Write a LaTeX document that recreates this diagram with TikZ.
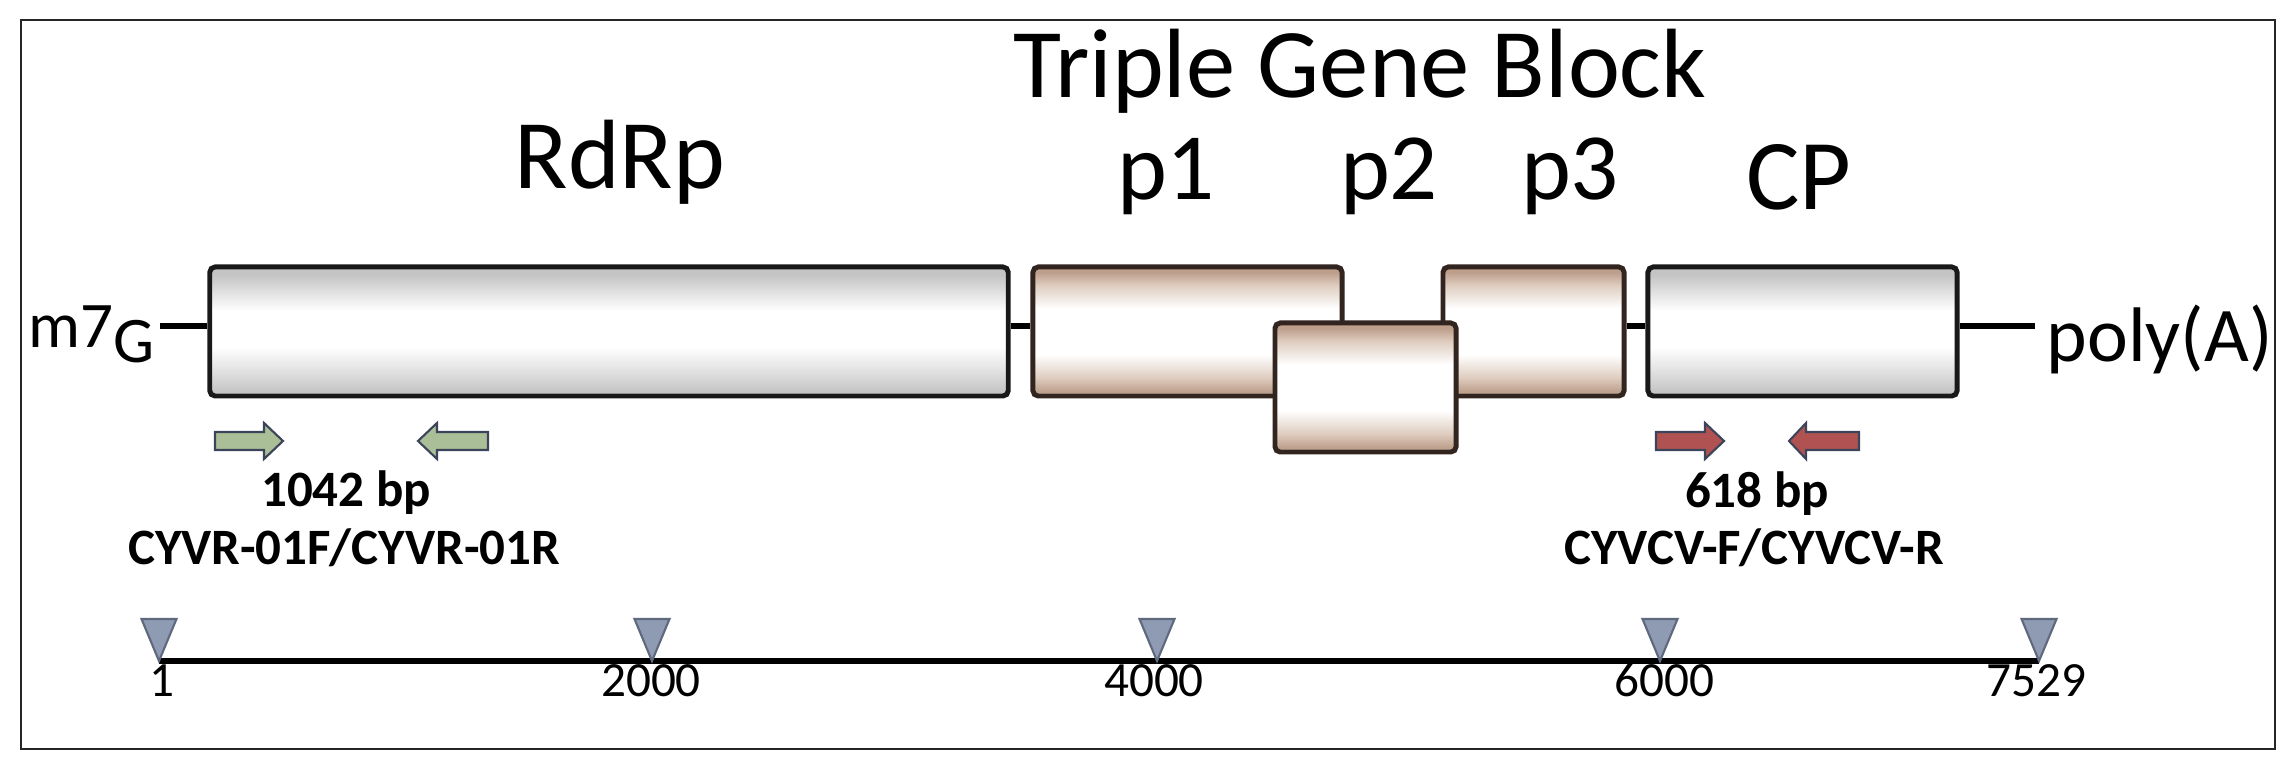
\documentclass[tikz,border=0pt]{standalone}
\usepackage{fontspec}
\setmainfont{Carlito}
\definecolor{gE}{RGB}{196,196,196}
\definecolor{gM}{RGB}{226,226,226}
\definecolor{bE}{RGB}{188,158,138}
\definecolor{bM}{RGB}{222,204,190}
\definecolor{bdr}{RGB}{25,25,25}
\definecolor{bbdr}{RGB}{50,36,30}
\definecolor{grn}{RGB}{170,190,152}
\definecolor{redf}{RGB}{176,82,82}
\definecolor{arrbdr}{RGB}{60,68,90}
\definecolor{trif}{RGB}{142,155,178}
\definecolor{tribdr}{RGB}{95,105,125}
\pgfdeclareverticalshading{grayband}{100bp}{color(0bp)=(gE); color(25bp)=(white); color(26.5bp)=(gE); color(35bp)=(gM); color(44bp)=(white); color(58bp)=(white); color(65bp)=(gM); color(72bp)=(gE); color(75bp)=(gE); color(100bp)=(gE)}
\pgfdeclareverticalshading{brownband}{100bp}{color(0bp)=(bE); color(25bp)=(white); color(26.5bp)=(bE); color(32bp)=(bM); color(41bp)=(white); color(59bp)=(white); color(68bp)=(bM); color(73bp)=(bE); color(75bp)=(bE); color(100bp)=(bE)}
\tikzset{
  graybox/.style={draw=bdr, line width=1.4pt, rounded corners=1.5pt, shading=grayband, inner sep=0, minimum height=1.29cm},
  brownbox/.style={draw=bbdr, line width=1.4pt, rounded corners=1.5pt, shading=brownband, inner sep=0, minimum height=1.29cm},
  genome/.style={line width=1.7pt, black},
  biglbl/.style={font=\fontsize{28}{30}\selectfont, inner sep=0, anchor=base},
  blbl/.style={font=\bfseries\fontsize{14.5}{16}\selectfont, inner sep=0, anchor=base},
  axlbl/.style={font=\fontsize{14}{16}\selectfont, inner sep=0, anchor=base},
  greenarr/.style={fill=grn, draw=arrbdr, line width=0.6pt, line join=miter},
  redarr/.style={fill=redf, draw=arrbdr, line width=0.6pt, line join=miter},
  tristyle/.style={fill=trif, draw=tribdr, line width=0.6pt},
  framestyle/.style={draw=black!85, line width=0.8pt}
}
\begin{document}
\begin{tikzpicture}[x=0.01cm, y=-0.01cm]
\useasboundingbox (0,0) rectangle (2292,768);
\draw[framestyle] (21,20) rectangle (2275,749);

% genome line anchors
\coordinate (lineY) at (0,326);
\coordinate (capend) at (160,326);
\coordinate (polyend) at (2035,326);

% boxes
\node[graybox, minimum width=7.98cm] (rdrp) at (609,331.5) {};
\node[brownbox, minimum width=3.09cm] (p1) at (1187.5,331.5) {};
\node[brownbox, minimum width=1.81cm] (p3) at (1533.5,331.5) {};
\node[brownbox, minimum width=1.81cm] (p2) at (1365.5,387.5) {};
\node[graybox, minimum width=3.09cm] (cp) at (1802.5,331.5) {};

% connecting lines
\draw[genome] (capend) -- (rdrp.west |- lineY);
\draw[genome] (rdrp.east |- lineY) -- (p1.west |- lineY);
\draw[genome] (p3.east |- lineY) -- (cp.west |- lineY);
\draw[genome] (cp.east |- lineY) -- (polyend);

% labels
\node[biglbl] (tgb) at (1360,98) {Triple Gene Block};
\node[biglbl] (lrdrp) at (620,189) {RdRp};
\node[biglbl, font=\fontsize{27}{29}\selectfont] (lp1) at (1166,200) {p1};
\node[biglbl, font=\fontsize{27}{29}\selectfont] (lp2) at (1389,200) {p2};
\node[biglbl, font=\fontsize{27}{29}\selectfont] (lp3) at (1570,200) {p3};
\node[biglbl, font=\fontsize{28.5}{30}\selectfont] (lcp) at (1799,210) {CP};
\node[anchor=base west, inner sep=0, font=\fontsize{18.5}{20}\selectfont] (m7g) at (28,363) {\raisebox{4.5pt}{m7}G};
\node[anchor=base west, inner sep=0, font=\fontsize{22}{24}\selectfont] (polya) at (2046,362) {poly(A)};

% primers
\draw[greenarr] (215,432) -- (264,432) -- (264,423) -- (283,441) -- (264,459) -- (264,450) -- (215,450) -- cycle;
\draw[greenarr] (488,432) -- (437,432) -- (437,423) -- (418,441) -- (437,459) -- (437,450) -- (488,450) -- cycle;
\draw[redarr] (1656,432) -- (1705,432) -- (1705,423) -- (1724,441) -- (1705,459) -- (1705,450) -- (1656,450) -- cycle;
\draw[redarr] (1859,432) -- (1806,432) -- (1806,423) -- (1789,441) -- (1806,459) -- (1806,450) -- (1859,450) -- cycle;

\node[blbl] (amp1) at (346,507) {1042 bp};
\node[blbl] (pr1) at (344,565) {CYVR-01F/CYVR-01R};
\node[blbl] (amp2) at (1757,508) {618 bp};
\node[blbl] (pr2) at (1754,565) {CYVCV-F/CYVCV-R};

% scale axis
\coordinate (a1) at (159,661);
\coordinate (a2) at (652,661);
\coordinate (a4) at (1157,661);
\coordinate (a6) at (1660,661);
\coordinate (a7) at (2039,661);
\draw[line width=1.7pt] (a1) -- (a7);
\foreach \t in {a1,a2,a4,a6,a7}{
  \draw[tristyle] (\t) ++(-17.5,-42) -- ++(35,0) -- (\t) -- cycle;
}
\node[axlbl] (l1) at (162,697) {1};
\node[axlbl] (l2) at (651,697) {2000};
\node[axlbl] (l4) at (1154,697) {4000};
\node[axlbl] (l6) at (1664,697) {6000};
\node[axlbl] (l7) at (2036,697) {7529};
\end{tikzpicture}
\end{document}
